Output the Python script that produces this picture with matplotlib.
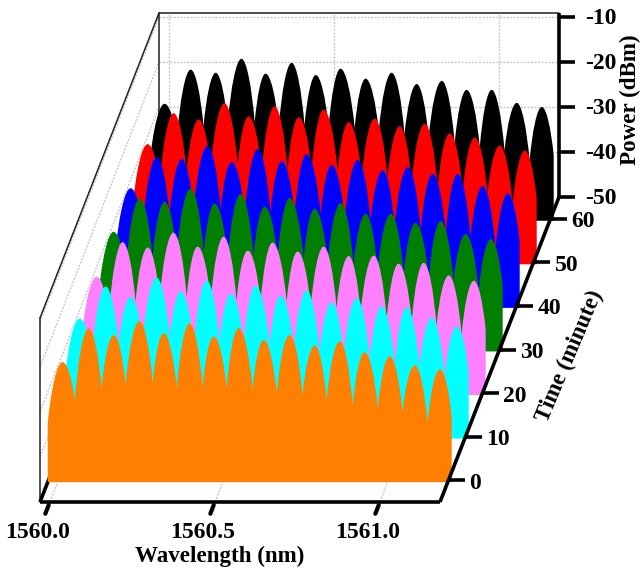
import matplotlib
matplotlib.use('Agg')
import matplotlib.pyplot as plt
from matplotlib.path import Path
from matplotlib.patches import PathPatch
from matplotlib.transforms import Affine2D

plt.rcParams['font.family'] = ['Liberation Serif', 'DejaVu Serif']
plt.rcParams['font.weight'] = 'bold'

# Wavelengths shared by all traces (nm)
edge_left = 1559.970
edge_right = 1561.194
peak_wl = [1560.015, 1560.094, 1560.170, 1560.248, 1560.321, 1560.400, 1560.473, 1560.548,
           1560.624, 1560.703, 1560.779, 1560.855, 1560.930, 1561.006, 1561.082, 1561.158]
valley_wl = [1560.052, 1560.133, 1560.206, 1560.288, 1560.361, 1560.439, 1560.512, 1560.591,
             1560.664, 1560.742, 1560.815, 1560.894, 1560.970, 1561.045, 1561.121]

# Peak and valley powers (dBm) for each scan
peaks_0 = [-23.3, -15.8, -17.3, -14.2, -16.9, -14.7, -17.6, -15.8, -18.4, -17.3, -19.6, -18.7, -21.1, -22.0, -24.0, -24.9]
valleys_0 = [-31.8, -29.1, -28.4, -28.0, -29.1, -28.9, -29.1, -29.3, -30.2, -30.7, -31.8, -32.9, -33.6, -34.4, -36.7]
peaks_10 = [-23.3, -16.2, -18.5, -14.2, -17.3, -14.9, -17.8, -16.0, -18.2, -17.1, -19.7, -18.8, -20.6, -20.8, -23.1, -25.1]
valleys_10 = [-31.5, -29.0, -28.2, -27.8, -29.3, -28.7, -29.0, -29.5, -30.0, -30.9, -31.6, -32.7, -33.8, -34.2, -36.4]
peaks_20 = [-23.7, -16.0, -17.2, -13.9, -17.0, -14.8, -17.9, -16.1, -18.1, -17.0, -19.1, -19.0, -20.8, -20.6, -23.4, -24.6]
valleys_20 = [-31.9, -29.2, -28.5, -28.1, -29.0, -29.0, -29.2, -29.2, -30.3, -30.6, -31.7, -33.0, -33.5, -34.5, -36.5]
peaks_30 = [-23.4, -16.0, -16.7, -13.8, -17.1, -15.0, -17.8, -15.9, -18.3, -17.0, -19.4, -19.4, -21.4, -21.0, -23.9, -25.0]
valleys_30 = [-31.7, -29.0, -28.6, -28.0, -29.2, -28.8, -29.0, -29.4, -30.1, -30.8, -31.9, -32.8, -33.7, -34.3, -36.6]
peaks_40 = [-23.4, -16.5, -16.9, -14.0, -17.6, -14.7, -17.4, -15.8, -18.2, -17.1, -19.4, -18.7, -20.2, -20.2, -22.9, -24.5]
valleys_40 = [-31.6, -29.1, -28.3, -28.2, -29.0, -28.9, -29.3, -29.2, -30.2, -30.6, -31.8, -32.9, -33.4, -34.3, -36.8]
peaks_50 = [-23.3, -16.4, -17.8, -14.2, -17.1, -14.9, -17.3, -15.6, -18.4, -17.6, -19.3, -18.7, -20.9, -21.8, -23.6, -24.7]
valleys_50 = [-31.8, -29.3, -28.4, -27.9, -29.1, -29.0, -29.0, -29.3, -30.4, -30.7, -31.7, -33.0, -33.6, -34.2, -36.5]
peaks_60 = [-24.0, -16.4, -17.1, -14.0, -17.3, -14.9, -17.6, -16.2, -18.4, -17.1, -19.6, -18.9, -20.9, -20.9, -23.8, -24.7]
valleys_60 = [-31.7, -29.0, -28.5, -28.1, -29.1, -28.8, -29.2, -29.4, -30.1, -30.8, -31.6, -32.8, -33.7, -34.4, -36.6]

left_power = -36.9
right_power = -35.5

times = [60, 50, 40, 30, 20, 10, 0]
colors = ['black', 'red', 'blue', '#007f00', '#ff80ff', 'cyan', '#ff8000']
all_peaks = [peaks_60, peaks_50, peaks_40, peaks_30, peaks_20, peaks_10, peaks_0]
all_valleys = [valleys_60, valleys_50, valleys_40, valleys_30, valleys_20, valleys_10, valleys_0]

wl_ticks = [1560.0, 1560.5, 1561.0]
wl_labels = ['1560.0', '1560.5', '1561.0']
power_ticks = [-50, -40, -30, -20, -10]
time_ticks = [0, 10, 20, 30, 40, 50, 60]

wl_min, wl_max = 1559.970, 1561.182
pw_min, pw_max = -50, -9.1
t_min, t_max = -5, 65
W, H = 640, 573
# depth direction in pixels per minute
dx_per_min, dy_per_min = 1.7, 4.357
trace_shift = -0.45  # traces sit a little in front of their time tick

fig = plt.figure(figsize=(6.4, 5.73), dpi=100)
ax = fig.add_axes([40 / W, (H - 502) / H, 400 / W, 184 / H])
ax.set_xlim(wl_min, wl_max)
ax.set_ylim(pw_min, pw_max)
ax.axis('off')


def plane(t):
    # transform for the (wavelength, power) plane at time t
    return ax.transData + Affine2D().translate((t - t_min) * dx_per_min, (t - t_min) * dy_per_min)


def seg(wl0, p0, t0, wl1, p1, t1, **kw):
    # straight line between two points of the box, possibly on different time planes
    a = plane(t0).transform((wl0, p0))
    b = plane(t1).transform((wl1, p1))
    ax.plot([a[0], b[0]], [a[1], b[1]], transform=None, clip_on=False, **kw)


def trace_path(peaks, valleys, base):
    verts = [(edge_left, base), (edge_left, left_power)]
    codes = [Path.MOVETO, Path.LINETO]
    def rise(x0, y0, x1, y1):
        d = x1 - x0
        h = y1 - y0
        verts.extend([(x0 + 0.22 * d, y0 + 0.55 * h), (x1 - 0.38 * d, y1), (x1, y1)])
        codes.extend([Path.CURVE4] * 3)
    def fall(x0, y0, x1, y1):
        d = x1 - x0
        h = y0 - y1
        verts.extend([(x0 + 0.38 * d, y0), (x1 - 0.22 * d, y1 + 0.55 * h), (x1, y1)])
        codes.extend([Path.CURVE4] * 3)
    rise(edge_left, left_power, peak_wl[0], peaks[0])
    for i in range(len(valleys)):
        fall(peak_wl[i], peaks[i], valley_wl[i], valleys[i])
        rise(valley_wl[i], valleys[i], peak_wl[i + 1], peaks[i + 1])
    fall(peak_wl[-1], peaks[-1], edge_right, right_power)
    verts.extend([(edge_right, base), (edge_left, base)])
    codes.extend([Path.LINETO, Path.CLOSEPOLY])
    return Path(verts, codes)


grid = dict(color='#c8c8c8', lw=1.0, ls=(0, (1.5, 1)))
thin = dict(color='#222222', lw=1.1, solid_capstyle='round')
thick = dict(color='black', lw=2.6, solid_capstyle='butt')

# grid on the walls and floor
for p in power_ticks[1:]:
    seg(wl_min, p, t_max, wl_max, p, t_max, **grid)
    seg(wl_min, p, t_min, wl_min, p, t_max, **grid)
for wl in wl_ticks:
    seg(wl, pw_min, t_min, wl, pw_min, t_max, **grid)
    seg(wl, pw_min, t_max, wl, pw_max, t_max, **grid)

# thin box edges
seg(wl_min, pw_min, t_min, wl_min, pw_max, t_min, **thin)
seg(wl_min, pw_max, t_min, wl_min, pw_max, t_max, **thin)
seg(wl_min, pw_max, t_max, wl_max, pw_max, t_max, **thin)
seg(wl_min, pw_min, t_max, wl_min, pw_max, t_max, **thin)

# floor edge on the left
seg(wl_min, pw_min, t_min, wl_min, pw_min, t_max, **thick)

# spectra, back to front
for t, c, pk, vl in zip(times, colors, all_peaks, all_valleys):
    patch = PathPatch(trace_path(pk, vl, pw_min), facecolor=c, edgecolor='none', lw=0,
                      transform=plane(t + trace_shift), clip_on=False, zorder=3)
    ax.add_patch(patch)

# axis lines in front of the spectra
seg(wl_min, pw_min, t_min, wl_max, pw_min, t_min, zorder=4, **thick)
seg(wl_max, pw_min, t_min, wl_max, pw_min, t_max, zorder=4, **thick)
seg(wl_max, pw_min, t_max, wl_max, pw_max, t_max, zorder=4, **thick)

fs = 17

# wavelength ticks
for wl, lab in zip(wl_ticks, wl_labels):
    seg(wl, pw_min, t_min - 0.7, wl, pw_min, t_min - 2.7, zorder=4, color='black', lw=3.0, solid_capstyle='round')
    ax.annotate(lab, (wl, pw_min), xycoords=plane(t_min), xytext=(-12, -31), textcoords='offset pixels',
                ha='center', va='center', fontsize=fs, fontweight='bold', annotation_clip=False)

# power ticks
for p in power_ticks:
    a = plane(t_max).transform((wl_max, p))
    ax.plot([a[0], a[0] + 16], [a[1], a[1]], transform=None, clip_on=False, zorder=4, **thick)
    ax.annotate(str(p), (wl_max, p), xycoords=plane(t_max), xytext=(26, -1), textcoords='offset pixels',
                ha='left', va='center', fontsize=fs, fontweight='bold', annotation_clip=False)

# time ticks
for t in time_ticks:
    a = plane(t).transform((wl_max, pw_min))
    ax.plot([a[0], a[0] + 16], [a[1], a[1]], transform=None, clip_on=False, zorder=4, **thick)
    ax.annotate(str(t), (wl_max, pw_min), xycoords=plane(t), xytext=(21, -3), textcoords='offset pixels',
                ha='left', va='center', fontsize=fs, fontweight='bold', annotation_clip=False)

fig.text(220 / W, 1 - 556 / H, 'Wavelength (nm)', ha='center', va='center', fontsize=16.6, fontweight='bold')
fig.text(570 / W, 1 - 356 / H, 'Time (minute)', ha='center', va='center', rotation=67, fontsize=16.6, fontweight='bold')
fig.text(630 / W, 1 - 100 / H, 'Power (dBm)', ha='center', va='center', rotation=90, fontsize=16.6, fontweight='bold')

fig.savefig('out.png', dpi=100)
